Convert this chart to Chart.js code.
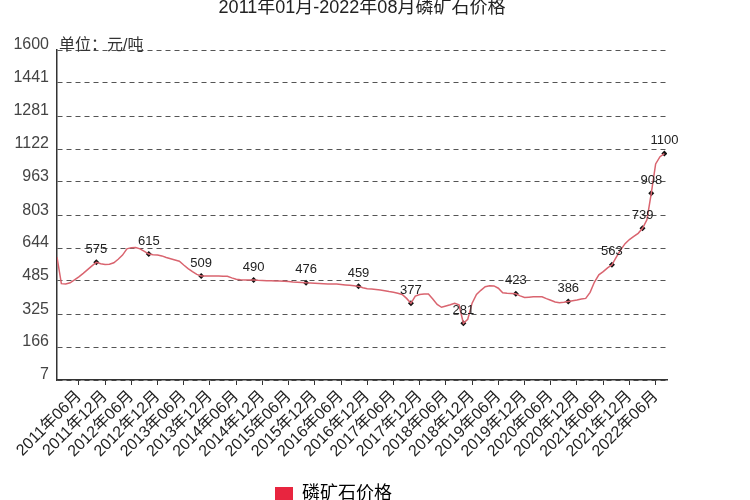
<!DOCTYPE html>
<html>
<head>
<meta charset="utf-8">
<script src="https://cdn.jsdelivr.net/npm/chart.js@4"></script>
<style>
  body { margin: 0; background: #fff; overflow: hidden; }
  #wrap { position: relative; width: 750px; height: 513px; }
</style>
</head>
<body>
<div id="wrap"><canvas id="myChart"></canvas></div>
<script>
// monthly price, 2011-01 .. 2022-08 (index 0 = 2011-01)
const prices = [
    600, 472, 470, 476, 490, 505, 522, 540, 558, 575, 568, 565,   // 2011
    566, 573, 590, 610, 640, 646, 647, 640, 628, 615, 612, 610,   // 2012
    606, 598, 592, 586, 580, 562, 545, 530, 517, 509, 509, 509,   // 2013
    509, 509, 508, 508, 500, 493, 491, 490, 490, 490, 488, 487,   // 2014
    486, 486, 485, 485, 484, 482, 480, 479, 478, 476, 475, 474,   // 2015
    473, 472, 471, 470, 470, 468, 466, 464, 462, 459, 452, 448,   // 2016
    446, 444, 441, 438, 434, 431, 426, 420, 401, 377, 412, 420,   // 2017
    422, 422, 398, 372, 358, 364, 370, 377, 370, 281, 300, 378,   // 2018
    420, 440, 457, 462, 461, 450, 428, 426, 425, 423, 413, 405,   // 2019
    407, 409, 409, 409, 400, 392, 384, 380, 382, 386, 390, 393,   // 2020
    398, 401, 430, 480, 515, 530, 548, 563, 600, 635, 665, 685,   // 2021
    700, 715, 739, 780, 908, 1050, 1085, 1100                      // 2022
];

// months that carry a marker + value label
const markerIdx = [9, 21, 33, 45, 57, 69, 81, 93, 105, 117, 127, 134, 136, 139];
const markerVals = [575, 615, 509, 490, 476, 459, 377, 281, 423, 386, 563, 739, 908, 1100];

const xTickIdx = [5, 11, 17, 23, 29, 35, 41, 47, 53, 59, 65, 71, 77, 83, 89, 95, 101, 107, 113, 119, 125, 131, 137];
const xTickLabels = [
    '2011年06月', '2011年12月', '2012年06月', '2012年12月', '2013年06月', '2013年12月',
    '2014年06月', '2014年12月', '2015年06月', '2015年12月', '2016年06月', '2016年12月',
    '2017年06月', '2017年12月', '2018年06月', '2018年12月', '2019年06月', '2019年12月',
    '2020年06月', '2020年12月', '2021年06月', '2021年12月', '2022年06月'
];
const yTicks = [7, 166, 325, 485, 644, 803, 963, 1122, 1281, 1441, 1600];

const FONT = "Arial, 'Noto Sans CJK SC', sans-serif";

const linePoints = prices.map((v, i) => ({ x: i, y: v }));
const markerPoints = markerIdx.map((m, i) => ({ x: m, y: markerVals[i] }));

// title, unit text and point labels
const extras = {
    id: 'extras',
    afterDatasetsDraw(chart) {
        const ctx = chart.ctx;
        ctx.save();
        ctx.fillStyle = '#222';
        ctx.font = '18px ' + FONT;
        ctx.textAlign = 'center';
        ctx.textBaseline = 'alphabetic';
        ctx.fillText('2011年01月-2022年08月磷矿石价格', 362, 13);

        ctx.font = '16px ' + FONT;
        ctx.textAlign = 'left';
        ctx.fillStyle = '#333';
        ctx.fillText('单位：元/吨', 59, 50);

        ctx.font = '13px ' + FONT;
        ctx.textAlign = 'center';
        ctx.textBaseline = 'middle';
        ctx.fillStyle = '#222';
        chart.getDatasetMeta(1).data.forEach((pt, i) => {
            ctx.fillText(markerVals[i], pt.x, pt.y - 13);
        });
        ctx.restore();
    }
};

const config = {
    type: 'line',
    data: {
        datasets: [{
            label: '磷矿石价格',
            data: linePoints,
            borderColor: '#d9646f',
            backgroundColor: '#e8253f',
            borderWidth: 1.5,
            pointRadius: 0,
            tension: 0
        }, {
            label: 'markers',
            data: markerPoints,
            showLine: false,
            pointStyle: 'rectRot',
            pointRadius: 3,
            backgroundColor: '#111',
            borderColor: '#111',
            borderWidth: 0
        }]
    },
    options: {
        responsive: true,
        maintainAspectRatio: false,
        animation: false,
        layout: { padding: { top: 50, right: 83, left: 0, bottom: 0 } },
        plugins: {
            tooltip: { enabled: false },
            legend: {
                position: 'bottom',
                labels: {
                    font: { size: 18, family: FONT },
                    color: '#333',
                    boxWidth: 18,
                    boxHeight: 14,
                    padding: 10,
                    generateLabels: () => [{
                        text: '磷矿石价格',
                        fillStyle: '#e8253f',
                        strokeStyle: '#e8253f',
                        lineWidth: 0,
                        hidden: false,
                        datasetIndex: 0
                    }]
                }
            }
        },
        scales: {
            x: {
                type: 'linear',
                min: 0,
                max: 139.6,
                afterBuildTicks: scale => {
                    scale.ticks = xTickIdx.map(v => ({ value: v }));
                },
                afterFit: scale => { scale.height = 95; },
                ticks: {
                    autoSkip: false,
                    minRotation: 45,
                    maxRotation: 45,
                    color: '#222',
                    font: { size: 16, family: FONT },
                    padding: 2,
                    callback: (value, index) => xTickLabels[index]
                },
                grid: { drawOnChartArea: false, drawTicks: true, tickLength: 5, color: '#333' },
                border: { display: true, color: '#333', width: 1.5 }
            },
            y: {
                min: 7,
                max: 1600,
                afterBuildTicks: scale => {
                    scale.ticks = yTicks.map(v => ({ value: v }));
                },
                afterFit: scale => { scale.width = 57; },
                ticks: {
                    color: '#444',
                    font: { size: 16, family: FONT },
                    padding: 8,
                    labelOffset: -5,
                    callback: v => v
                },
                grid: { color: '#555', drawTicks: false, lineWidth: 1 },
                border: { display: true, color: '#333', width: 1.5, dash: [5, 4] }
            }
        }
    },
    plugins: [extras]
};

const myChart = new Chart(document.getElementById('myChart'), config);
</script>
</body>
</html>
